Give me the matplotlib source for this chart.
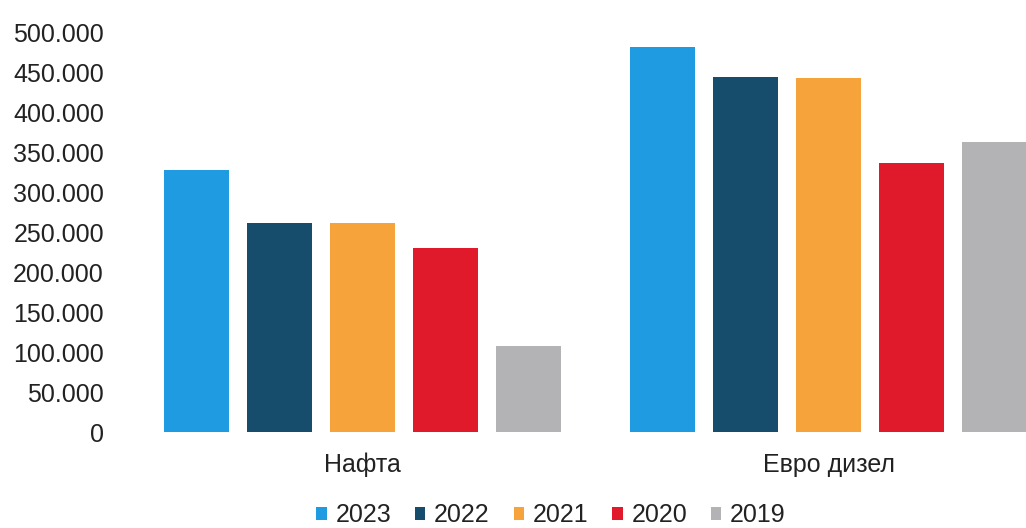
import matplotlib
matplotlib.use("Agg")
import matplotlib.pyplot as plt
import numpy as np
from matplotlib.patches import Patch
from matplotlib.ticker import FuncFormatter

plt.rcParams["font.family"] = ["Liberation Sans", "DejaVu Sans"]

categories = ["Нафта", "Евро дизел"]
years = ["2023", "2022", "2021", "2020", "2019"]
values = {
    "2023": [328000, 482000],
    "2022": [262000, 445000],
    "2021": [262000, 444000],
    "2020": [231000, 337000],
    "2019": [108000, 364000],
}
colors = ["#1f9be1", "#174d6c", "#f7a33c", "#e11a2b", "#b3b3b6"]
yticks = [0, 50000, 100000, 150000, 200000, 250000, 300000, 350000, 400000, 450000, 500000]

W, H = 1026, 528
fig = plt.figure(figsize=(W / 100, H / 100), dpi=100)
ax = fig.add_axes([129 / W, 1 - 432 / H, (W - 129) / W, (432 - 33) / H])

x = np.arange(len(categories))
step, width = 83 / 467, 65 / 467
for i, (yr, c) in enumerate(zip(years, colors)):
    ax.bar(x + (i - 2) * step, values[yr], width=width, color=c, zorder=2)

ax.set_xlim(-0.5, 1.5 - 36 / 467)
ax.set_ylim(0, 500000)
ax.set_yticks(yticks)
ax.yaxis.set_major_formatter(FuncFormatter(lambda v, p: f"{int(v):,}".replace(",", ".")))
ax.set_xticks(x)
ax.set_xticklabels(categories)
ax.tick_params(axis="y", length=0, pad=18, labelsize=18, labelcolor="#222222")
ax.tick_params(axis="x", length=0, pad=15, labelsize=18, labelcolor="#222222")
for s in ax.spines.values():
    s.set_visible(False)

handles = [Patch(facecolor=c, label=yr) for yr, c in zip(years, colors)]
fig.legend(handles=handles, loc="center", bbox_to_anchor=(551 / W, 1 - 515 / H),
           ncol=5, frameon=False, fontsize=18, handlelength=0.42, handleheight=0.42,
           handletextpad=0.35, columnspacing=0.95, labelcolor="#222222")

fig.savefig("out.png", dpi=100)
